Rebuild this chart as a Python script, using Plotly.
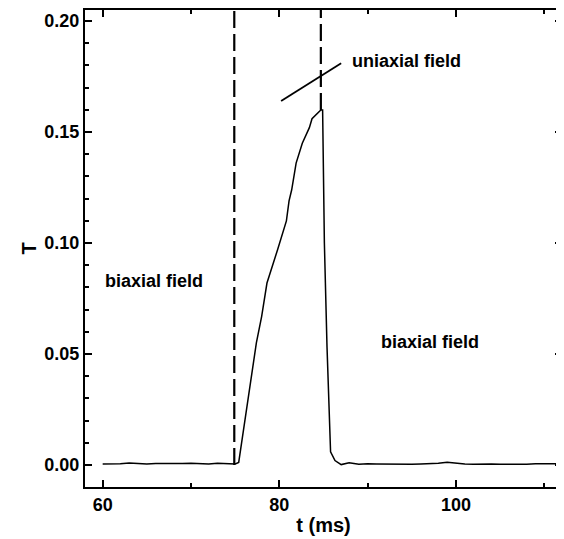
import plotly.graph_objects as go

# Measured curve T(t)
t_ms = [60, 61, 62, 63, 64, 65, 66, 67, 68, 69, 70, 71, 72, 73, 74, 75.0, 75.4,
        76.5, 77.4, 78.0, 78.6, 79.8, 80.8, 81.1, 81.4, 81.9, 82.6, 83.4, 83.7, 84.7,
        84.9, 85.1, 85.4, 85.8, 86.3, 87.0, 87.9, 89.0, 90, 91, 92, 93, 94, 95, 96,
        97, 98, 99, 100, 101, 102, 103, 104, 105, 106, 107, 108, 109, 110, 111, 112]
T_vals = [0.0005, 0.0005, 0.0006, 0.0009, 0.0007, 0.0005, 0.0007, 0.0006, 0.0008, 0.0007,
          0.0008, 0.0006, 0.0005, 0.0008, 0.0006, 0.0005, 0.0012,
          0.030, 0.055, 0.067, 0.082, 0.097, 0.110, 0.119, 0.124, 0.136, 0.145, 0.152, 0.156, 0.160,
          0.160, 0.100, 0.053, 0.006, 0.002, 0.0002, 0.0010, 0.0003, 0.0006, 0.0005, 0.0004, 0.0006,
          0.0005, 0.0004, 0.0005, 0.0006, 0.0008, 0.0012, 0.0007, 0.0005, 0.0004, 0.0006, 0.0005,
          0.0004, 0.0003, 0.0005, 0.0004, 0.0006, 0.0007, 0.0005, 0.0006]

# Dashed boundary markers (start/end of uniaxial field)
dash1_t = [74.9, 74.9]
dash1_T = [0.0, 0.205]
dash2_t = [84.7, 84.7]
dash2_T = [0.160, 0.205]

# Annotation pointer line
pointer_t = [80.2, 87.0]
pointer_T = [0.164, 0.181]

labels = [
    dict(text="uniaxial field", x=88.0, y=0.182),
    dict(text="biaxial field", x=60.0, y=0.083),
    dict(text="biaxial field", x=91.3, y=0.0555),
]

font_family = "Liberation Sans, Arial, sans-serif"

fig = go.Figure()
fig.add_trace(go.Scatter(x=t_ms, y=T_vals, mode="lines",
                         line=dict(color="black", width=1.5), showlegend=False))
fig.add_trace(go.Scatter(x=dash1_t, y=dash1_T, mode="lines",
                         line=dict(color="black", width=2.2, dash="17px,6px"), showlegend=False))
fig.add_trace(go.Scatter(x=dash2_t, y=dash2_T, mode="lines",
                         line=dict(color="black", width=2.2, dash="17px,6px"), showlegend=False))
fig.add_trace(go.Scatter(x=pointer_t, y=pointer_T, mode="lines",
                         line=dict(color="black", width=1.8), showlegend=False))

for lab in labels:
    fig.add_annotation(text="<b>%s</b>" % lab["text"], x=lab["x"], y=lab["y"],
                       xanchor="left", yanchor="middle", showarrow=False,
                       font=dict(family=font_family, size=18, color="black"))

axis_common = dict(
    showgrid=False, zeroline=False, showline=True, linecolor="black", linewidth=2,
    mirror="allticks", ticks="inside", ticklen=7, tickwidth=1.5, tickcolor="black",
    tickfont=dict(family=font_family, size=18, color="black"), automargin=False,
)

fig.update_xaxes(range=[58, 112], tickvals=[60, 80, 100], ticktext=["<b>60</b>", "<b>80</b>", "<b>100</b>"],
                 minor=dict(tickvals=[70, 90, 110], ticks="inside", ticklen=4, tickcolor="black"),
                 title=dict(text="<b>t (ms)</b>", font=dict(family=font_family, size=20, color="black"),
                            standoff=4),
                 **axis_common)
fig.update_yaxes(range=[-0.0099, 0.205], tickvals=[0, 0.05, 0.10, 0.15, 0.20],
                 ticktext=["<b>0.00</b>", "<b>0.05</b>", "<b>0.10</b>", "<b>0.15</b>", "<b>0.20</b>"],
                 minor=dict(dtick=0.01, ticks="inside", ticklen=4, tickcolor="black"),
                 title=dict(text="<b>T</b>", font=dict(family=font_family, size=20, color="black"),
                            standoff=2),
                 **axis_common)

# The page body adds an 8px offset, so the figure is sized/margined to compensate.
fig.update_layout(width=556, height=531, margin=dict(l=77, r=2, t=2, b=52),
                  plot_bgcolor="white", paper_bgcolor="white")

fig.write_html("out.html")
